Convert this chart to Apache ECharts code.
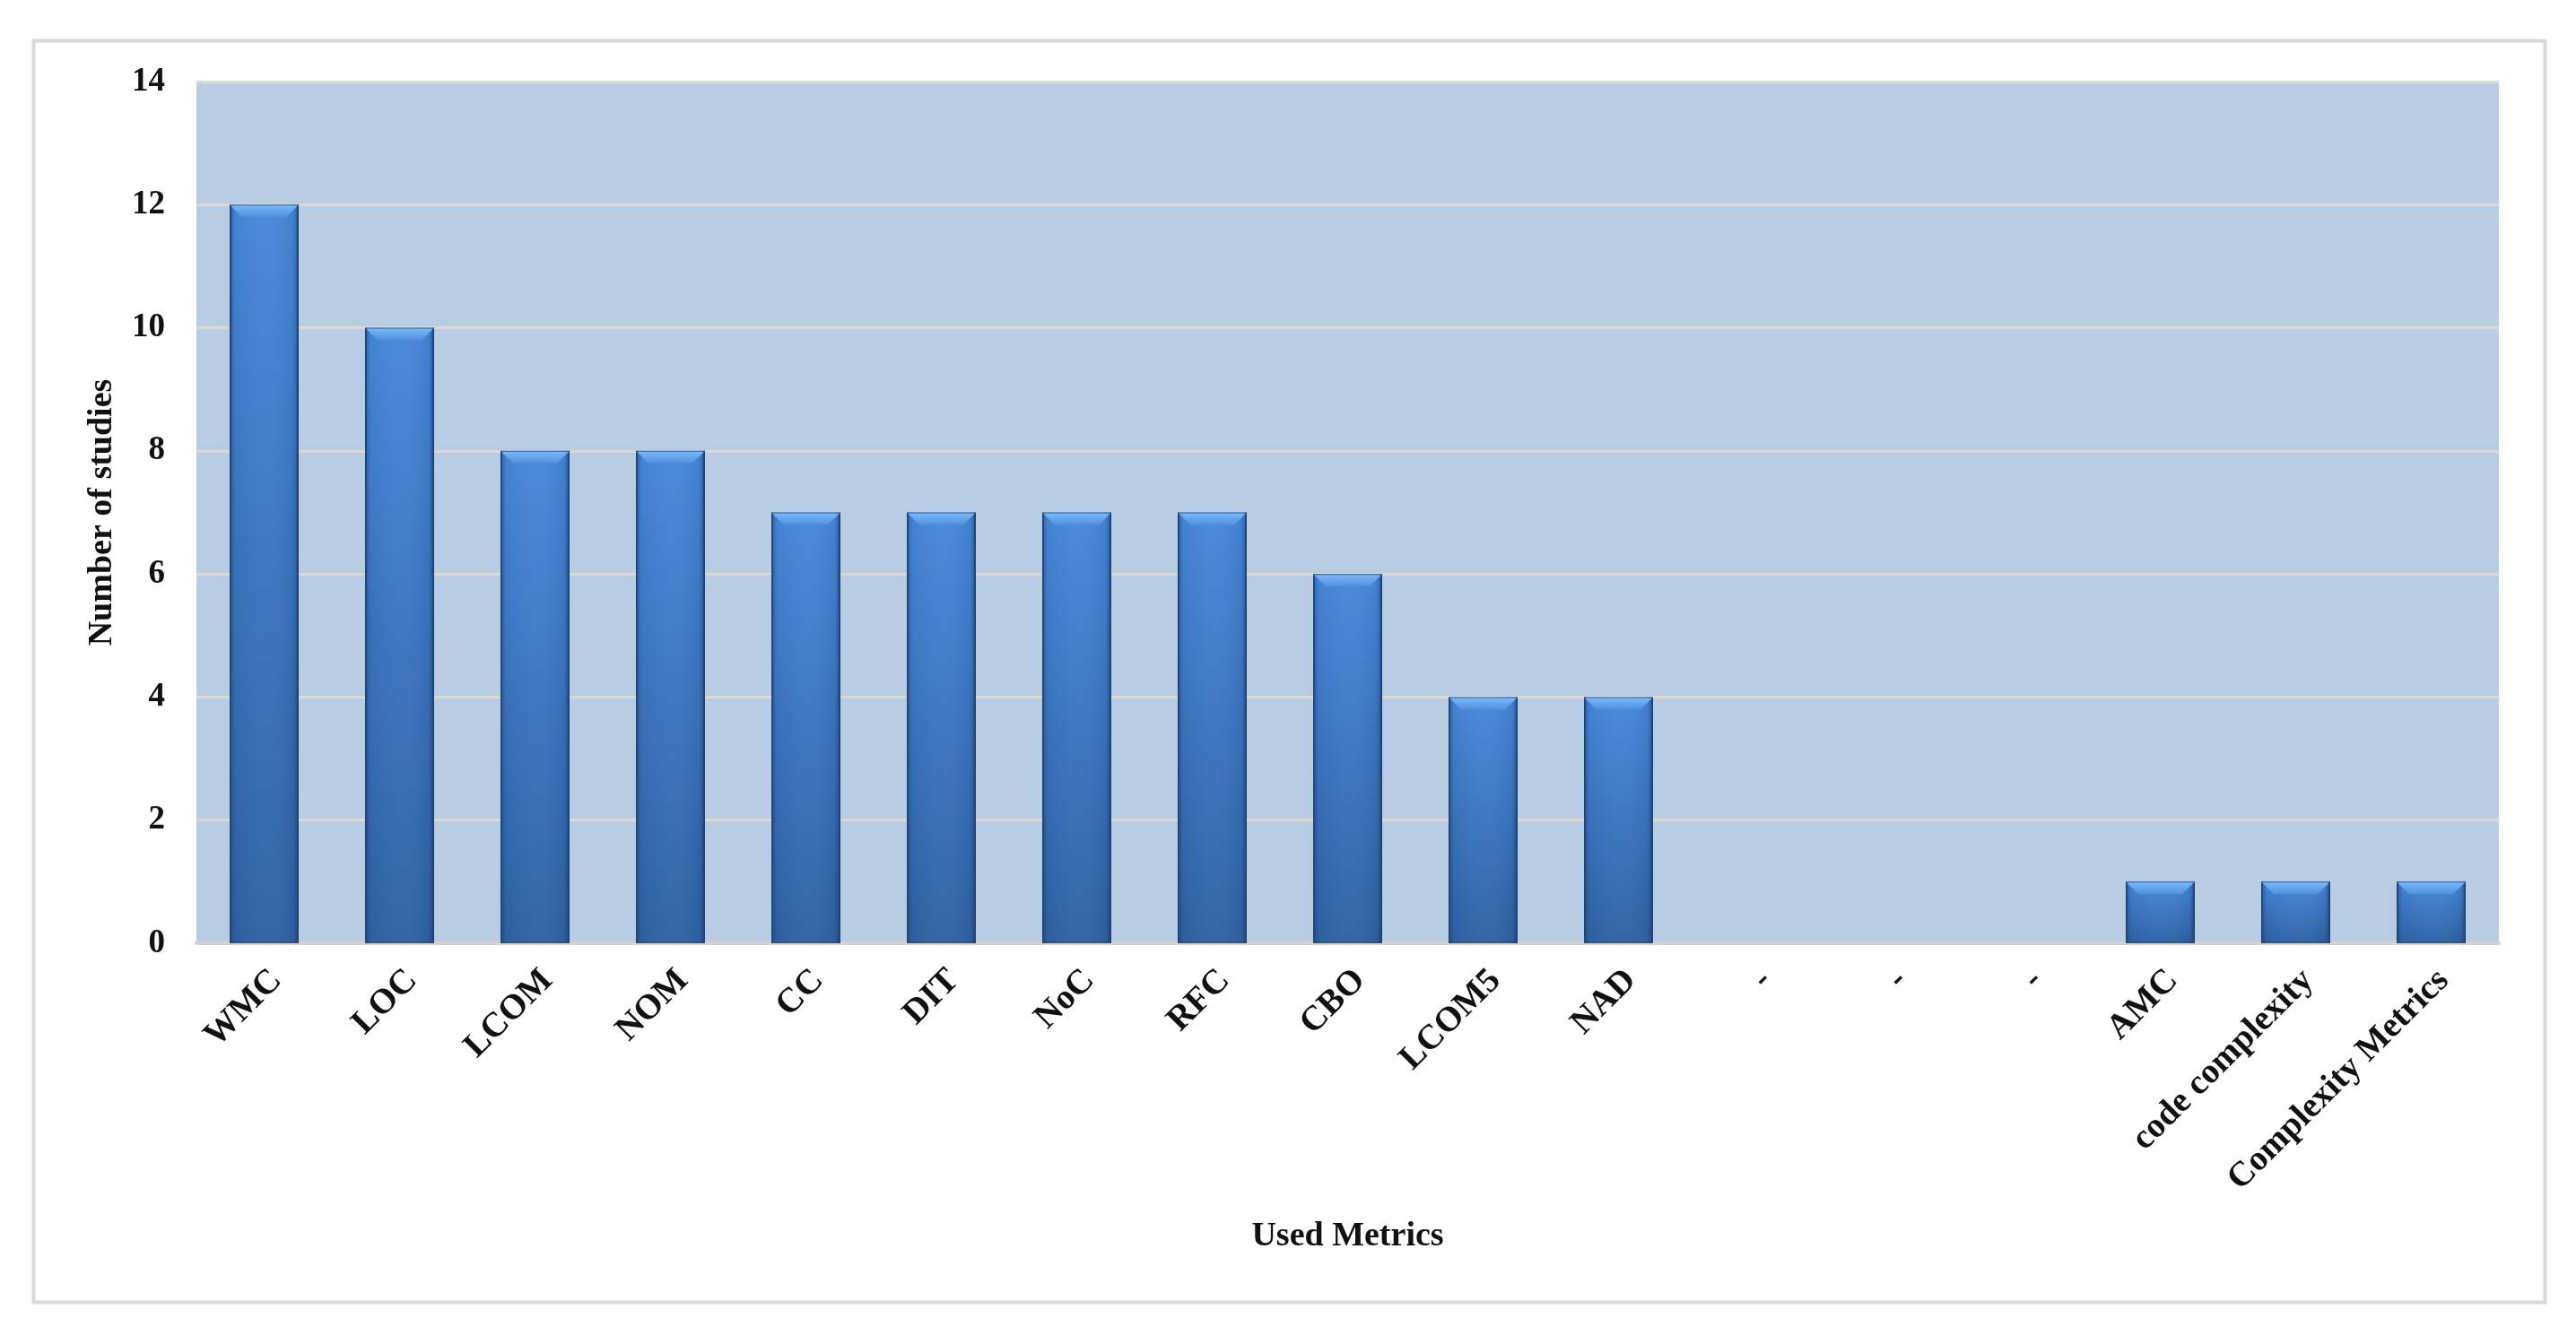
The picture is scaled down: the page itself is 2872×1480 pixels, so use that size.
<!DOCTYPE html>
<html>
<head>
<meta charset="utf-8">
<script src="https://cdn.jsdelivr.net/npm/echarts@6/dist/echarts.min.js"></script>
<style>
  html, body { margin: 0; padding: 0; background: #fff; }
  #chart { width: 2872px; height: 1480px; }
</style>
</head>
<body>
<div id="chart"></div>
<script>
  // -------- Data --------
  const metrics = ['WMC', 'LOC', 'LCOM', 'NOM', 'CC', 'DIT', 'NoC', 'RFC', 'CBO', 'LCOM5', 'NAD',
    '-', '-', '-', 'AMC', 'code complexity', 'Complexity Metrics'];
  const studies = [12, 10, 8, 8, 7, 7, 7, 7, 6, 4, 4, 0, 0, 0, 1, 1, 1];
  const yTicks = { min: 0, max: 14, step: 2 };

  const FONT = 'Liberation Serif, Times New Roman, serif';
  const BAR_W = 0.51;

  const chart = echarts.init(document.getElementById('chart'), null, { renderer: 'canvas' });

  // top bevel + side shading, drawn on top of each bar through the axis scales
  function bevel(params, api) {
    const v = api.value(1);
    if (!v) return null;
    const top = api.coord([api.value(0), v]);
    const base = api.coord([api.value(0), 0]);
    const w = api.size([1, 0])[0] * BAR_W;
    const x0 = top[0] - w / 2, x1 = top[0] + w / 2;
    const y0 = top[1], h = base[1] - top[1];
    const b = 14;
    return {
      type: 'group',
      children: [
        {
          type: 'rect',
          shape: { x: x0, y: y0, width: w, height: h },
          style: {
            fill: new echarts.graphic.LinearGradient(0, 0, 1, 0, [
              { offset: 0, color: 'rgba(20,45,90,0.45)' },
              { offset: 0.08, color: 'rgba(20,45,90,0.05)' },
              { offset: 0.5, color: 'rgba(255,255,255,0.03)' },
              { offset: 0.92, color: 'rgba(20,45,90,0.08)' },
              { offset: 1, color: 'rgba(20,45,90,0.55)' },
            ]),
          },
        },
        {
          type: 'polygon',
          shape: { points: [[x0 + 1, y0 + 1], [x1 - 1, y0 + 1], [x1 - b, y0 + b], [x0 + b, y0 + b]] },
          style: {
            fill: new echarts.graphic.LinearGradient(0, 0, 0, 1, [
              { offset: 0, color: '#7ab8f6' },
              { offset: 1, color: '#4e90de' },
            ]),
          },
        },
      ],
    };
  }

  chart.setOption({
    backgroundColor: '#ffffff',
    animation: false,
    graphic: [{
      type: 'rect',
      left: 35, top: 43,
      shape: { width: 2800, height: 1407 },
      style: { fill: 'none', stroke: '#d9d9d9', lineWidth: 4 },
      silent: true,
    }],
    grid: {
      left: 219, right: 86, top: 91, bottom: 428,
      show: true, backgroundColor: '#b8cce4', borderWidth: 0,
    },
    xAxis: {
      type: 'category',
      data: metrics,
      axisTick: { show: false },
      axisLine: { lineStyle: { color: '#d2d2d2', width: 4 } },
      axisLabel: {
        rotate: 45, margin: 22, interval: 0, verticalAlign: 'top',
        color: '#111', fontFamily: FONT, fontWeight: 'bold', fontSize: 39,
      },
      name: 'Used Metrics',
      nameLocation: 'middle',
      nameGap: 308,
      nameTextStyle: { color: '#111', fontFamily: FONT, fontWeight: 'bold', fontSize: 38 },
    },
    yAxis: {
      type: 'value',
      min: yTicks.min, max: yTicks.max, interval: yTicks.step,
      axisLine: { show: false },
      axisTick: { show: false },
      axisLabel: { margin: 35, color: '#111', fontFamily: FONT, fontWeight: 'bold', fontSize: 37 },
      splitLine: { lineStyle: { color: '#ddd9cd', width: 3 } },
      name: 'Number of studies',
      nameLocation: 'middle',
      nameRotate: 90,
      nameGap: 86,
      nameTextStyle: { color: '#111', fontFamily: FONT, fontWeight: 'bold', fontSize: 38 },
    },
    series: [
      {
        type: 'bar',
        data: studies.map((v) => (v === 0 ? { value: v, itemStyle: { opacity: 0 } } : v)),
        barWidth: (BAR_W * 100) + '%',
        itemStyle: {
          color: new echarts.graphic.LinearGradient(0, 0, 0, 1, [
            { offset: 0, color: '#4588da' },
            { offset: 1, color: '#2f61a3' },
          ]),
          borderColor: '#2a5790',
          borderWidth: 2,
        },
      },
      {
        type: 'custom',
        data: studies.map((v, i) => [i, v]),
        renderItem: bevel,
        silent: true,
        z: 3,
      },
    ],
  });
</script>
</body>
</html>
